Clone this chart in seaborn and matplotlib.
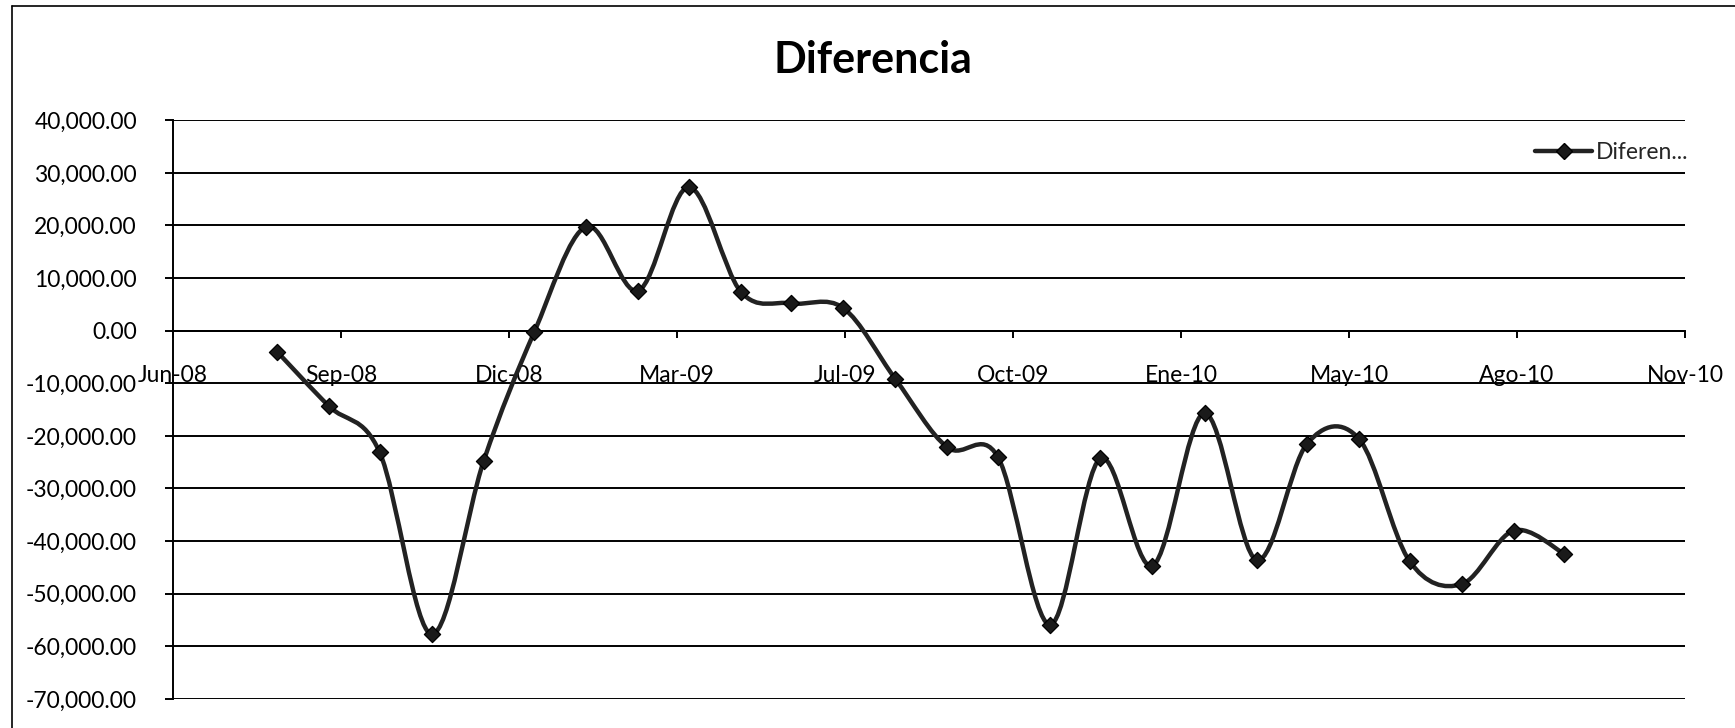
import numpy as np
import pandas as pd
import matplotlib
matplotlib.use("Agg")
import matplotlib.pyplot as plt
import matplotlib.dates as mdates
from matplotlib.path import Path
from matplotlib.patches import PathPatch
from matplotlib.lines import Line2D
from matplotlib.ticker import FuncFormatter
import seaborn as sns

# ---------------- data (dates read from the point positions on the date axis) ----------------
fechas = [
    "2008-08-02", "2008-09-02", "2008-10-02", "2008-11-02", "2008-12-03", "2009-01-02",
    "2009-02-02", "2009-03-05", "2009-04-04", "2009-05-05", "2009-06-04", "2009-07-05",
    "2009-08-05", "2009-09-05", "2009-10-05", "2009-11-05", "2009-12-05", "2010-01-05",
    "2010-02-05", "2010-03-08", "2010-04-07", "2010-05-08", "2010-06-07", "2010-07-08",
    "2010-08-08", "2010-09-07",
]
diferencia = [
    -4000, -14400, -23100, -57700, -24700, -300,
    19800, 7600, 27300, 7400, 5200, 4300,
    -9200, -22200, -24000, -55900, -24300, -44700,
    -15700, -43600, -21500, -20600, -43800, -48200,
    -38000, -42400,
]
title_text = "Diferencia"
legend_label = "Diferen..."
x_tick_labels = ["Jun-08", "Sep-08", "Dic-08", "Mar-09", "Jul-09",
                 "Oct-09", "Ene-10", "May-10", "Ago-10", "Nov-10"]
x_axis_start = "2008-06-01"
x_major_unit_days = 100
y_ticks = [40000, 30000, 20000, 10000, 0, -10000, -20000, -30000, -40000, -50000, -60000, -70000]

# ---------------- style ----------------
sns.set_style("white")
plt.rcParams["font.family"] = ["Lato", "DejaVu Sans"]

line_color = "#222222"
marker_face = "#1a1a1a"
grid_lw = 1.4
label_size = 16.5

fig = plt.figure(figsize=(17.35, 7.28), dpi=100)
ax = fig.add_axes([0.0997, 0.0400, 0.8715, 0.7948])

df = pd.DataFrame({"fecha": pd.to_datetime(fechas), "dif": diferencia})

# markers through seaborn
sns.scatterplot(data=df, x="fecha", y="dif", marker="D", s=68,
                color=marker_face, edgecolor="black", linewidth=0.9,
                zorder=5, ax=ax, legend=False)

# smoothed (Excel-like Catmull-Rom Bezier) line built from the data points
xn = mdates.date2num(df["fecha"])
yv = np.asarray(diferencia, dtype=float)
pts = np.column_stack([xn, yv])
n = len(pts)
verts = [tuple(pts[0])]
codes = [Path.MOVETO]
for i in range(n - 1):
    p0 = pts[max(i - 1, 0)]
    p1 = pts[i]
    p2 = pts[i + 1]
    p3 = pts[min(i + 2, n - 1)]
    c1 = p1 + (p2 - p0) / 6.0
    c2 = p2 - (p3 - p1) / 6.0
    verts += [tuple(c1), tuple(c2), tuple(p2)]
    codes += [Path.CURVE4, Path.CURVE4, Path.CURVE4]
ax.add_patch(PathPatch(Path(verts, codes), facecolor="none",
                       edgecolor=line_color, lw=3.2, zorder=4,
                       capstyle="round", joinstyle="round"))

# axes
start = pd.Timestamp(x_axis_start)
tick_dates = [start + pd.Timedelta(days=x_major_unit_days * i) for i in range(len(x_tick_labels))]
ax.set_xlim(tick_dates[0], tick_dates[-1])
ax.set_xticks(tick_dates)
ax.set_xticklabels(x_tick_labels)
ax.set_ylim(min(y_ticks), max(y_ticks))
ax.set_yticks(y_ticks)
ax.yaxis.set_major_formatter(FuncFormatter(lambda v, p: f"{v:,.2f}"))
ax.set_xlabel("")
ax.set_ylabel("")

ax.set_axisbelow(True)
ax.yaxis.grid(True, color="black", lw=grid_lw)
ax.xaxis.grid(False)
for s in ["top", "right"]:
    ax.spines[s].set_visible(False)
ax.spines["bottom"].set_position(("data", 0))
for s in ["left", "bottom"]:
    ax.spines[s].set_color("black")
    ax.spines[s].set_linewidth(grid_lw)

ax.tick_params(axis="y", direction="out", length=6, width=grid_lw, pad=20,
               labelsize=label_size, colors="black", left=True)
ax.tick_params(axis="x", direction="out", length=5, width=grid_lw, pad=20,
               labelsize=label_size, colors="black", bottom=True)

# legend
proxy = Line2D([], [], color=line_color, lw=3.2, marker="D", markersize=8,
               markerfacecolor=marker_face, markeredgecolor="black")
ax.legend([proxy], [legend_label], loc="center left", bbox_to_anchor=(0.9008, 0.9435),
          frameon=False, borderpad=0, borderaxespad=0, handlelength=2.5,
          handletextpad=0.15, fontsize=label_size)

# title
fig.text(0.503, 0.918, title_text, ha="center", va="center",
         fontsize=31, fontweight="bold", color="black")

# chart-area border (left and top visible)
fig.add_artist(Line2D([0.0067, 0.0067], [0.0, 0.9918], transform=fig.transFigure,
                      color="black", lw=1.2))
fig.add_artist(Line2D([0.0067, 1.0], [0.9918, 0.9918], transform=fig.transFigure,
                      color="black", lw=1.2))

fig.savefig("out.png", dpi=100)
